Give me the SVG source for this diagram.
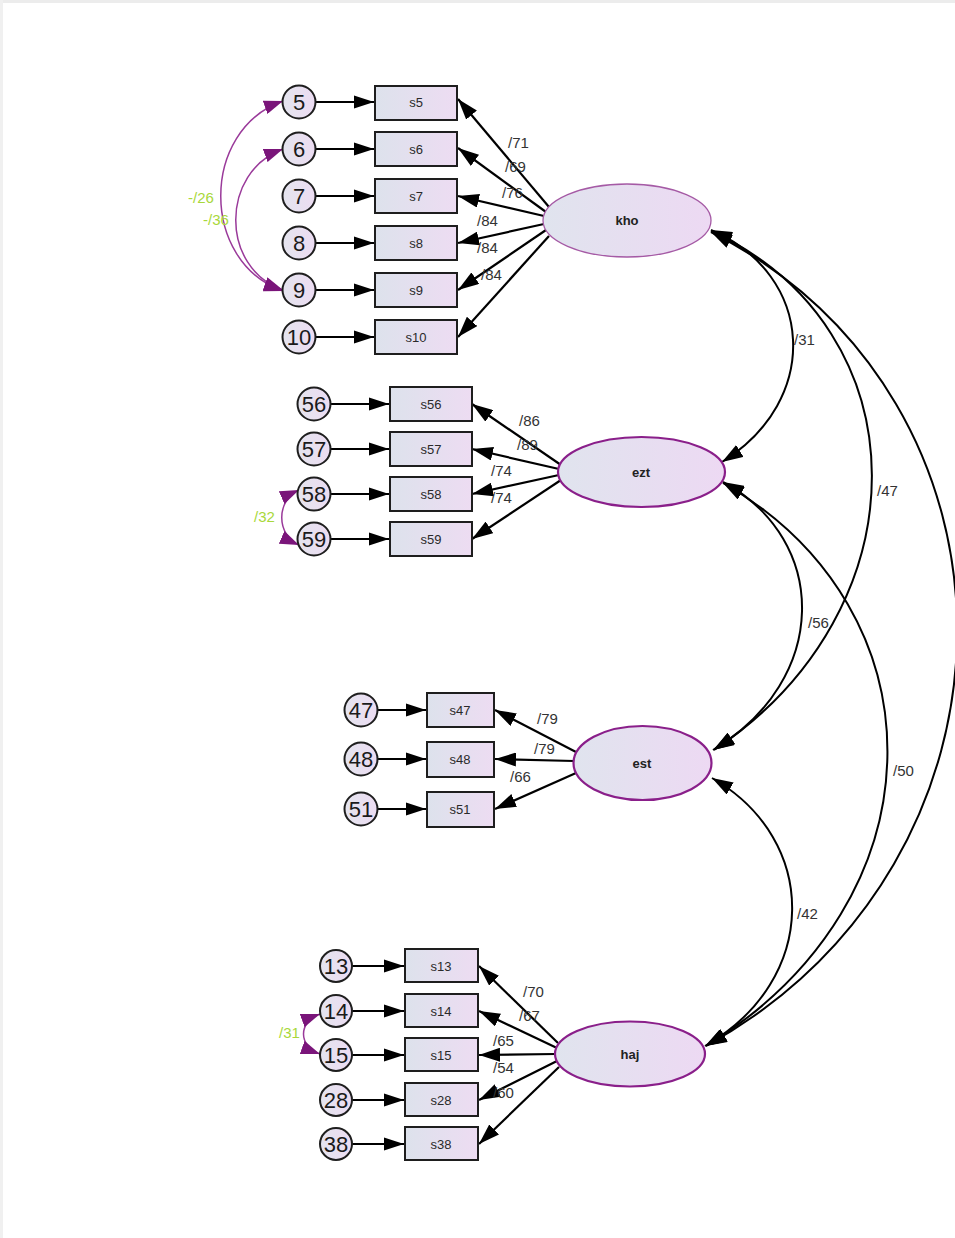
<svg xmlns="http://www.w3.org/2000/svg" width="955" height="1238" viewBox="0 0 955 1238">
<style>
.bx{stroke:#1e1e1e;stroke-width:2;fill:url(#gb)}
.er{stroke:#1e1e1e;stroke-width:2;fill:url(#gc)}
.fa{stroke:#8a1f8a;stroke-width:2.2;fill:url(#ge)}
.fk{stroke:#a55aa5;stroke-width:1.3;fill:url(#ge)}
.ea{stroke:#000;stroke-width:2.2;fill:none;marker-end:url(#as)}
.ld{stroke:#000;stroke-width:2.2;fill:none;marker-end:url(#ab)}
.cv{stroke:#000;stroke-width:2;fill:none;marker-start:url(#ab);marker-end:url(#ab)}
.pc{stroke:#9a3a9a;stroke-width:1.5;fill:none;marker-start:url(#ap);marker-end:url(#ap)}
.t{font-family:"Liberation Sans",Arial,sans-serif}
.bt{font-size:13px;fill:#2a2a2a;text-anchor:middle}
.ct{font-size:22px;fill:#1a1a1a;text-anchor:middle}
.ft{font-size:13px;fill:#222;text-anchor:middle;font-weight:bold}
.lb{font-size:15px;fill:#333}
.gl{font-size:15px;fill:#a8d83a}
</style>
<defs>
<linearGradient id="gb" x1="0" y1="0" x2="1" y2="0"><stop offset="0" stop-color="#dde2ec"/><stop offset="1" stop-color="#eddcf2"/></linearGradient>
<linearGradient id="gc" x1="0" y1="0" x2="1" y2="0"><stop offset="0" stop-color="#e4e4ee"/><stop offset="1" stop-color="#ecdcf2"/></linearGradient>
<linearGradient id="ge" x1="0" y1="0" x2="1" y2="0"><stop offset="0" stop-color="#e0e4ee"/><stop offset="1" stop-color="#edd9f3"/></linearGradient>
<marker id="ab" markerUnits="userSpaceOnUse" markerWidth="22" markerHeight="14" refX="21" refY="7" orient="auto-start-reverse"><path d="M0,0 L21,7 L0,14 z" fill="#000"/></marker>
<marker id="as" markerUnits="userSpaceOnUse" markerWidth="21" markerHeight="14" refX="20" refY="7" orient="auto-start-reverse"><path d="M0,0.5 L20,7 L0,13.5 z" fill="#000"/></marker>
<marker id="ap" markerUnits="userSpaceOnUse" markerWidth="20" markerHeight="14" refX="19" refY="7" orient="auto-start-reverse"><path d="M0,0 L19,7 L0,14 z" fill="#7a157a"/></marker>
</defs>
<rect x="0" y="0" width="955" height="1238" fill="#fff"/>
<rect x="0" y="0" width="955" height="3" fill="#ececec"/>
<rect x="0" y="0" width="3" height="1238" fill="#f0f0f0"/>

<g id="connectors">
<!-- kho -->
<line class="ea" x1="316" y1="102" x2="374" y2="102"/>
<line class="ea" x1="316" y1="149" x2="374" y2="149"/>
<line class="ea" x1="316" y1="196" x2="374" y2="196"/>
<line class="ea" x1="316" y1="243" x2="374" y2="243"/>
<line class="ea" x1="316" y1="290" x2="374" y2="290"/>
<line class="ea" x1="316" y1="337" x2="374" y2="337"/>
<line class="ld" x1="549" y1="207" x2="458" y2="99"/>
<line class="ld" x1="546" y1="212" x2="458" y2="148"/>
<line class="ld" x1="544" y1="216" x2="458" y2="196"/>
<line class="ld" x1="544" y1="224" x2="458" y2="243"/>
<line class="ld" x1="546" y1="230" x2="458" y2="290"/>
<line class="ld" x1="549" y1="236" x2="458" y2="337"/>
<path class="pc" d="M283,101 C200,130 200,262 283,291"/>
<path class="pc" d="M283,149 C220,172 220,268 283,290"/>
<!-- ezt -->
<line class="ea" x1="331" y1="404" x2="389" y2="404"/>
<line class="ea" x1="331" y1="449" x2="389" y2="449"/>
<line class="ea" x1="331" y1="494" x2="389" y2="494"/>
<line class="ea" x1="331" y1="539" x2="389" y2="539"/>
<line class="ld" x1="561" y1="465" x2="472" y2="404"/>
<line class="ld" x1="559" y1="469" x2="472" y2="449"/>
<line class="ld" x1="559" y1="475" x2="472" y2="494"/>
<line class="ld" x1="561" y1="480" x2="472" y2="539"/>
<path class="pc" d="M299,490 C276,500 276,535 299,545"/>
<!-- est -->
<line class="ea" x1="378" y1="710" x2="426" y2="710"/>
<line class="ea" x1="378" y1="759" x2="426" y2="759"/>
<line class="ea" x1="378" y1="809" x2="426" y2="809"/>
<line class="ld" x1="576" y1="752" x2="495" y2="710"/>
<line class="ld" x1="574" y1="761" x2="495" y2="759"/>
<line class="ld" x1="576" y1="773" x2="495" y2="809"/>
<!-- haj -->
<line class="ea" x1="352" y1="966" x2="404" y2="966"/>
<line class="ea" x1="352" y1="1011" x2="404" y2="1011"/>
<line class="ea" x1="352" y1="1055" x2="404" y2="1055"/>
<line class="ea" x1="352" y1="1100" x2="404" y2="1100"/>
<line class="ea" x1="352" y1="1144" x2="404" y2="1144"/>
<line class="ld" x1="558" y1="1043" x2="479" y2="966"/>
<line class="ld" x1="557" y1="1048" x2="479" y2="1011"/>
<line class="ld" x1="556" y1="1054" x2="479" y2="1055"/>
<line class="ld" x1="557" y1="1061" x2="479" y2="1100"/>
<line class="ld" x1="559" y1="1067" x2="479" y2="1144"/>
<path class="pc" d="M320,1014 C298,1022 298,1046 320,1054"/>
<!-- factor covariances -->
<path class="cv" d="M711,230 C815,275 822,400 722,462"/>
<path class="cv" d="M711,231 C925,330 925,610 714,750"/>
<path class="cv" d="M711,232 C1040,400 1040,860 706,1046"/>
<path class="cv" d="M723,482 C830,540 830,680 713,750"/>
<path class="cv" d="M723,483 C945,610 945,900 706,1046"/>
<path class="cv" d="M712,778 C820,840 820,980 705,1046"/>
</g>

<g class="t">
<text class="lb" x="508" y="148">/71</text>
<text class="lb" x="505" y="172">/69</text>
<text class="lb" x="502" y="198">/76</text>
<text class="lb" x="477" y="226">/84</text>
<text class="lb" x="477" y="253">/84</text>
<text class="lb" x="481" y="280">/84</text>
<text class="gl" x="188" y="203">-/26</text>
<text class="gl" x="203" y="225">-/36</text>
<text class="lb" x="519" y="426">/86</text>
<text class="lb" x="517" y="450">/89</text>
<text class="lb" x="491" y="476">/74</text>
<text class="lb" x="491" y="503">/74</text>
<text class="gl" x="254" y="522">/32</text>
<text class="lb" x="537" y="724">/79</text>
<text class="lb" x="534" y="754">/79</text>
<text class="lb" x="510" y="782">/66</text>
<text class="lb" x="523" y="997">/70</text>
<text class="lb" x="519" y="1021">/67</text>
<text class="lb" x="493" y="1046">/65</text>
<text class="lb" x="493" y="1073">/54</text>
<text class="lb" x="493" y="1098">/60</text>
<text class="gl" x="279" y="1038">/31</text>
<text class="lb" x="794" y="345">/31</text>
<text class="lb" x="877" y="496">/47</text>
<text class="lb" x="808" y="628">/56</text>
<text class="lb" x="893" y="776">/50</text>
<text class="lb" x="797" y="919">/42</text>
</g>

<g id="kho" class="t">
<ellipse class="fk" cx="627" cy="220.5" rx="84" ry="36.5"/>
<text class="ft" x="627" y="225">kho</text>
</g>
<g id="ezt" class="t">
<ellipse class="fa" cx="641.5" cy="472" rx="83.5" ry="35"/>
<text class="ft" x="641" y="477">ezt</text>
</g>
<g id="est" class="t">
<ellipse class="fa" cx="642.5" cy="763" rx="69" ry="37"/>
<text class="ft" x="642" y="768">est</text>
</g>
<g id="haj" class="t">
<ellipse class="fa" cx="630" cy="1054" rx="75" ry="32.5"/>
<text class="ft" x="630" y="1059">haj</text>
</g>

<g id="s5" class="t"><rect class="bx" x="375" y="86" width="82" height="34"/><text class="bt" x="416" y="107">s5</text></g>
<g id="s6" class="t"><rect class="bx" x="375" y="132" width="82" height="34"/><text class="bt" x="416" y="154">s6</text></g>
<g id="s7" class="t"><rect class="bx" x="375" y="179" width="82" height="34"/><text class="bt" x="416" y="201">s7</text></g>
<g id="s8" class="t"><rect class="bx" x="375" y="226" width="82" height="34"/><text class="bt" x="416" y="248">s8</text></g>
<g id="s9" class="t"><rect class="bx" x="375" y="273" width="82" height="34"/><text class="bt" x="416" y="295">s9</text></g>
<g id="s10" class="t"><rect class="bx" x="375" y="320" width="82" height="34"/><text class="bt" x="416" y="342">s10</text></g>

<g id="e5" class="t"><circle class="er" cx="299" cy="102" r="16.5"/><text class="ct" x="299" y="110">5</text></g>
<g id="e6" class="t"><circle class="er" cx="299" cy="149" r="16.5"/><text class="ct" x="299" y="157">6</text></g>
<g id="e7" class="t"><circle class="er" cx="299" cy="196" r="16.5"/><text class="ct" x="299" y="204">7</text></g>
<g id="e8" class="t"><circle class="er" cx="299" cy="243" r="16.5"/><text class="ct" x="299" y="251">8</text></g>
<g id="e9" class="t"><circle class="er" cx="299" cy="290" r="16.5"/><text class="ct" x="299" y="298">9</text></g>
<g id="e10" class="t"><circle class="er" cx="299" cy="337" r="16.5"/><text class="ct" x="299" y="345">10</text></g>

<g id="s56" class="t"><rect class="bx" x="390" y="387" width="82" height="34"/><text class="bt" x="431" y="409">s56</text></g>
<g id="s57" class="t"><rect class="bx" x="390" y="432" width="82" height="34"/><text class="bt" x="431" y="454">s57</text></g>
<g id="s58" class="t"><rect class="bx" x="390" y="477" width="82" height="34"/><text class="bt" x="431" y="499">s58</text></g>
<g id="s59" class="t"><rect class="bx" x="390" y="522" width="82" height="34"/><text class="bt" x="431" y="544">s59</text></g>

<g id="e56" class="t"><circle class="er" cx="314" cy="404" r="16.5"/><text class="ct" x="314" y="412">56</text></g>
<g id="e57" class="t"><circle class="er" cx="314" cy="449" r="16.5"/><text class="ct" x="314" y="457">57</text></g>
<g id="e58" class="t"><circle class="er" cx="314" cy="494" r="16.5"/><text class="ct" x="314" y="502">58</text></g>
<g id="e59" class="t"><circle class="er" cx="314" cy="539" r="16.5"/><text class="ct" x="314" y="547">59</text></g>

<g id="s47" class="t"><rect class="bx" x="427" y="693" width="67" height="34"/><text class="bt" x="460" y="715">s47</text></g>
<g id="s48" class="t"><rect class="bx" x="427" y="742" width="67" height="35"/><text class="bt" x="460" y="764">s48</text></g>
<g id="s51" class="t"><rect class="bx" x="427" y="792" width="67" height="35"/><text class="bt" x="460" y="814">s51</text></g>

<g id="e47" class="t"><circle class="er" cx="361" cy="710" r="16.5"/><text class="ct" x="361" y="718">47</text></g>
<g id="e48" class="t"><circle class="er" cx="361" cy="759" r="16.5"/><text class="ct" x="361" y="767">48</text></g>
<g id="e51" class="t"><circle class="er" cx="361" cy="809" r="16.5"/><text class="ct" x="361" y="817">51</text></g>

<g id="s13" class="t"><rect class="bx" x="405" y="949" width="73" height="33"/><text class="bt" x="441" y="971">s13</text></g>
<g id="s14" class="t"><rect class="bx" x="405" y="994" width="73" height="33"/><text class="bt" x="441" y="1016">s14</text></g>
<g id="s15" class="t"><rect class="bx" x="405" y="1038" width="73" height="33"/><text class="bt" x="441" y="1060">s15</text></g>
<g id="s28" class="t"><rect class="bx" x="405" y="1083" width="73" height="33"/><text class="bt" x="441" y="1105">s28</text></g>
<g id="s38" class="t"><rect class="bx" x="405" y="1127" width="73" height="33"/><text class="bt" x="441" y="1149">s38</text></g>

<g id="e13" class="t"><circle class="er" cx="336" cy="966" r="16"/><text class="ct" x="336" y="974">13</text></g>
<g id="e14" class="t"><circle class="er" cx="336" cy="1011" r="16"/><text class="ct" x="336" y="1019">14</text></g>
<g id="e15" class="t"><circle class="er" cx="336" cy="1055" r="16"/><text class="ct" x="336" y="1063">15</text></g>
<g id="e28" class="t"><circle class="er" cx="336" cy="1100" r="16"/><text class="ct" x="336" y="1108">28</text></g>
<g id="e38" class="t"><circle class="er" cx="336" cy="1144" r="16"/><text class="ct" x="336" y="1152">38</text></g>
</svg>
